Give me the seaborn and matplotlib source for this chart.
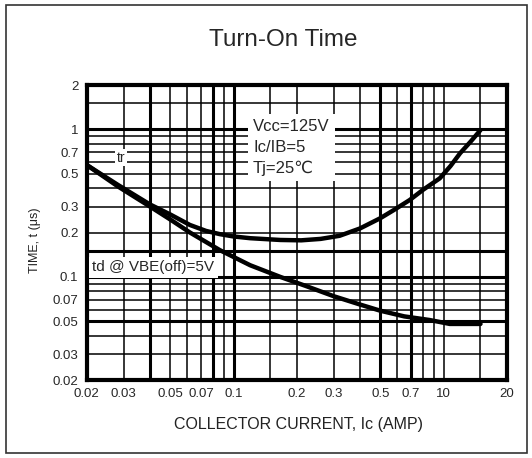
# Turn-On Time (switching transistor datasheet curve), redrawn with seaborn
import matplotlib
matplotlib.use('Agg')
import matplotlib.pyplot as plt
from matplotlib.patches import Rectangle
import seaborn as sns
import pandas as pd

# --- data ---
ic_tr = [0.02, 0.0282, 0.04, 0.05, 0.062, 0.074, 0.086, 0.1, 0.12, 0.167, 0.21, 0.26, 0.32, 0.4, 0.5, 0.58,
         0.69, 0.8, 0.96, 1.08, 1.2, 1.35, 1.5]
t_tr = [0.574, 0.42, 0.31, 0.265, 0.225, 0.205, 0.195, 0.188, 0.183, 0.178, 0.177, 0.181, 0.19, 0.213, 0.25,
        0.284, 0.332, 0.39, 0.466, 0.565, 0.69, 0.83, 0.99]

ic_td = [0.02, 0.0282, 0.04, 0.05, 0.062, 0.086, 0.12, 0.167, 0.22, 0.3, 0.4, 0.5, 0.65, 0.86, 1.07, 1.5]
t_td = [0.574, 0.41, 0.3, 0.245, 0.2, 0.152, 0.12, 0.1, 0.087, 0.074, 0.065, 0.059, 0.054, 0.051, 0.048, 0.048]

x_ticks = [0.02, 0.03, 0.05, 0.07, 0.1, 0.2, 0.3, 0.5, 0.7, 1, 2]
x_labels = ['0.02', '0.03', '0.05', '0.07', '0.1', '0.2', '0.3', '0.5', '0.7', '10', '20']
y_ticks = [0.02, 0.03, 0.05, 0.07, 0.1, 0.2, 0.3, 0.5, 0.7, 1, 2]
y_labels = ['0.02', '0.03', '0.05', '0.07', '0.1', '0.2', '0.3', '0.5', '0.7', '1', '2']

x_grid = [0.03, 0.04, 0.05, 0.06, 0.07, 0.08, 0.09, 0.1, 0.15, 0.2, 0.3, 0.4, 0.5, 0.6, 0.7, 0.8, 0.9, 1, 1.5]
x_grid_bold = [0.04, 0.08, 0.1, 0.5, 0.7]
y_grid = [0.03, 0.04, 0.05, 0.06, 0.07, 0.08, 0.09, 0.1, 0.15, 0.2, 0.3, 0.4, 0.5, 0.6, 0.7, 0.8, 0.9, 1, 1.5]
y_grid_bold = [0.05, 0.1, 0.15, 1]

# --- style ---
sns.set_style('white')
plt.rcParams['font.family'] = ['Liberation Sans', 'DejaVu Sans']

df = pd.concat([
    pd.DataFrame({'ic': ic_tr, 't': t_tr, 'curve': 'tr'}),
    pd.DataFrame({'ic': ic_td, 't': t_td, 'curve': 'td'}),
], ignore_index=True)

fig = plt.figure(figsize=(5.32, 4.58), dpi=100)
ax = fig.add_axes([0.163, 0.1703, 0.7895, 0.6441])

# graph paper grid
for v in x_grid:
    ax.axvline(v, color='black', lw=2.2 if v in x_grid_bold else 1.1, zorder=1)
for v in y_grid:
    ax.axhline(v, color='black', lw=2.2 if v in y_grid_bold else 1.1, zorder=1)

sns.lineplot(data=df, x='ic', y='t', hue='curve', units='curve', estimator=None,
             palette={'tr': 'black', 'td': 'black'}, lw=3.2, legend=False,
             sort=False, ax=ax, zorder=5)
for ln in ax.get_lines():
    ln.set_solid_joinstyle('round')
    ln.set_solid_capstyle('round')

ax.set_xscale('log')
ax.set_yscale('log')
ax.set_xlim(0.02, 2)
ax.set_ylim(0.02, 2)
ax.set_xticks(x_ticks)
ax.set_xticklabels(x_labels)
ax.set_yticks(y_ticks)
ax.set_yticklabels(y_labels)
ax.minorticks_off()
ax.tick_params(length=0, pad=6, labelsize=9.5)
ax.set_xlabel('')
ax.set_ylabel('')
for s in ax.spines.values():
    s.set_linewidth(3)
    s.set_color('black')

# annotations
ax.text(0.396, 0.788, 'Vcc=125V\nIc/IB=5\nTj=25\u2103', transform=ax.transAxes,
        ha='left', va='center', fontsize=12, linespacing=1.45, zorder=4,
        bbox=dict(facecolor='white', edgecolor='none', pad=4))
ax.text(0.082, 0.753, 'tr', transform=ax.transAxes, ha='center', va='center',
        fontsize=10, zorder=4, bbox=dict(facecolor='white', edgecolor='none', pad=1))
ax.text(0.013, 0.383, 'td @ VBE(off)=5V', transform=ax.transAxes, ha='left', va='center',
        fontsize=11, zorder=4, bbox=dict(facecolor='white', edgecolor='none', pad=2.5))

fig.text(283 / 532, 1 - 40 / 458, 'Turn-On Time', ha='center', va='center', fontsize=17.5)
fig.text(299 / 532, 1 - 424 / 458, 'COLLECTOR CURRENT, Ic (AMP)', ha='center', va='center',
         fontsize=11.5, color='#222222')
fig.text(35 / 532, 1 - 240 / 458, 'TIME, t (\u03bcs)', ha='center', va='center',
         rotation=90, fontsize=9, color='#222222')

# outer frame
fig.patches.append(Rectangle((6 / 532, 1 - 453 / 458), 521 / 532, 448 / 458,
                             transform=fig.transFigure, fill=False,
                             edgecolor='#333333', lw=1.2))

fig.savefig('out.png', dpi=100)
